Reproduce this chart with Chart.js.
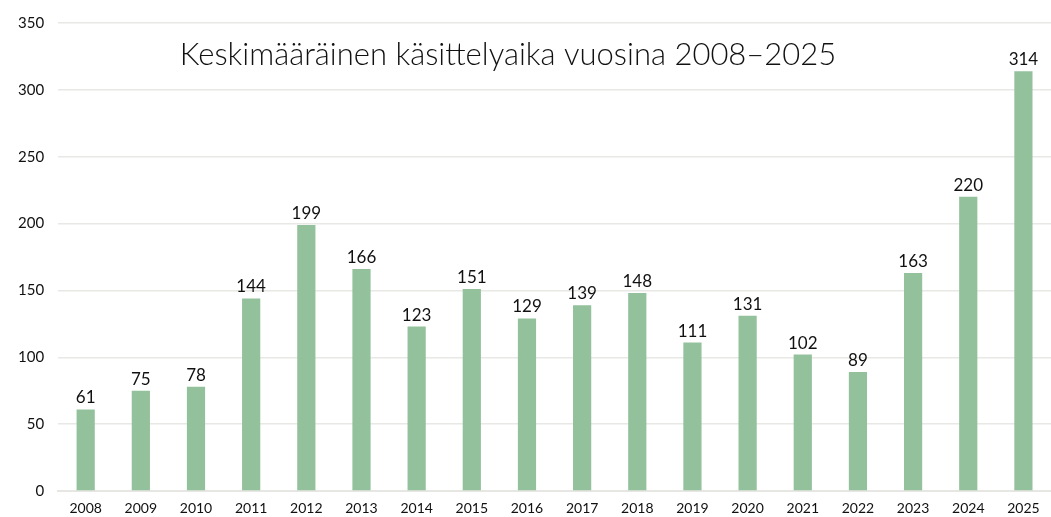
<!DOCTYPE html>
<html lang="fi">
<head>
  <meta charset="UTF-8">
  <title>Keskimääräinen käsittelyaika vuosina 2008–2025</title>
  <script src="https://cdn.jsdelivr.net/npm/chart.js"></script>
  <style>
    html, body { margin: 0; padding: 0; background: #fff; }
    .wrap { width: 1051px; height: 517px; position: relative; }
  </style>
</head>
<body>
  <div class="wrap"><canvas id="chart"></canvas></div>
  <script>
    const years = ["2008", "2009", "2010", "2011", "2012", "2013", "2014", "2015", "2016",
                   "2017", "2018", "2019", "2020", "2021", "2022", "2023", "2024", "2025"];
    const days = [61, 75, 78, 144, 199, 166, 123, 151, 129, 139, 148, 111, 131, 102, 89, 163, 220, 314];
    const titleText = "Keskimääräinen käsittelyaika vuosina 2008–2025";

    const FONT = "Lato, 'Open Sans', sans-serif";

    // value labels above each bar
    const valueLabels = {
      id: 'valueLabels',
      afterDatasetsDraw(chart) {
        const ctx = chart.ctx;
        const meta = chart.getDatasetMeta(0);
        ctx.save();
        ctx.font = "17px " + FONT;
        ctx.fillStyle = "#111";
        ctx.textAlign = "center";
        ctx.textBaseline = "bottom";
        meta.data.forEach((bar, i) => {
          ctx.fillText(String(days[i]), bar.x, bar.y - 3);
        });
        ctx.restore();
      }
    };

    // title drawn inside the plot area
    const innerTitle = {
      id: 'innerTitle',
      afterDraw(chart) {
        const ctx = chart.ctx;
        ctx.save();
        ctx.font = "300 31px " + FONT;
        ctx.fillStyle = "#111";
        ctx.textAlign = "center";
        ctx.textBaseline = "middle";
        ctx.fillText(titleText, 508, 55);
        ctx.restore();
      }
    };

    new Chart(document.getElementById('chart'), {
      type: 'bar',
      data: {
        labels: years,
        datasets: [{
          data: days,
          backgroundColor: '#93c19b',
          barPercentage: 0.33,
          categoryPercentage: 1.0
        }]
      },
      plugins: [valueLabels, innerTitle],
      options: {
        responsive: true,
        maintainAspectRatio: false,
        animation: false,
        layout: { padding: { top: 12, right: 0, left: 4, bottom: 0 } },
        plugins: {
          legend: { display: false },
          tooltip: { enabled: false }
        },
        scales: {
          x: {
            grid: { display: false, drawTicks: false },
            border: { display: true, color: '#e6e6e2', width: 2 },
            ticks: { color: '#111', font: { family: FONT, size: 14, lineHeight: 1 }, maxRotation: 0, padding: 10 },
            afterFit(scale) { scale.height = 26; }
          },
          y: {
            min: 0,
            max: 350,
            ticks: { stepSize: 50, color: '#111', font: { family: FONT, size: 15 }, padding: 14 },
            grid: { color: '#e8e8e4', lineWidth: 1.5, drawTicks: false },
            border: { display: false }
          }
        }
      }
    });
  </script>
</body>
</html>
